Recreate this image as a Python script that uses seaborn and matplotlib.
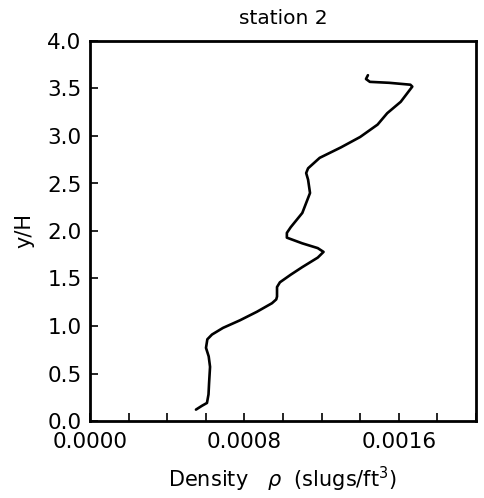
import numpy as np
import pandas as pd
import matplotlib
matplotlib.use("Agg")
import matplotlib.pyplot as plt
import seaborn as sns
from matplotlib.ticker import FixedLocator, FuncFormatter

# Data (density in slugs/ft^3 vs y/H)
density = [0.000549, 0.000580, 0.000606, 0.000614, 0.000617, 0.000622, 0.000615,
           0.000601, 0.000608, 0.000632, 0.000689,
           0.000777, 0.000865, 0.000943, 0.000965, 0.000969, 0.000969, 0.000984, 0.00104,
           0.00110, 0.00118, 0.00121, 0.00118, 0.00110, 0.00102, 0.00102, 0.00104, 0.00110,
           0.00114, 0.00113, 0.00112, 0.00113, 0.00119, 0.00130, 0.00140, 0.00149, 0.00154,
           0.00161, 0.00167, 0.00166, 0.00155, 0.00145, 0.00143, 0.00144]
y_over_h = [0.12, 0.16, 0.19, 0.28, 0.40, 0.57, 0.68, 0.77, 0.86, 0.91, 0.98, 1.06, 1.15,
            1.24, 1.28, 1.31, 1.41, 1.46, 1.54, 1.62, 1.72, 1.78, 1.82, 1.87, 1.93, 1.98,
            2.04, 2.19, 2.40, 2.54, 2.61, 2.66, 2.77, 2.88, 2.99, 3.12, 3.24, 3.36, 3.52,
            3.54, 3.56, 3.57, 3.60, 3.64]
x_ticks = [0.0000, 0.0008, 0.0016]
y_ticks = [0.0, 0.5, 1.0, 1.5, 2.0, 2.5, 3.0, 3.5, 4.0]
title = "station 2"

df = pd.DataFrame({"density": density, "y": y_over_h})

sns.set_style("ticks")
plt.rcParams["font.family"] = ["DejaVu Sans"]
plt.rcParams["mathtext.fontset"] = "dejavusans"
plt.rcParams["text.color"] = "black"
plt.rcParams["axes.labelcolor"] = "black"

fig = plt.figure(figsize=(4.84, 4.98), dpi=100)
ax = fig.add_axes([90/484, 77/498, (476-90)/484, (421-41)/498])

sns.lineplot(data=df, x="density", y="y", sort=False, estimator=None,
             color="black", linewidth=1.9, ax=ax)

ax.set_xlim(0, 0.002)
ax.set_ylim(0, 4.0)

minor_x = [i * 0.0002 for i in range(11)]
ax.xaxis.set_major_locator(FixedLocator(minor_x))
ax.xaxis.set_major_formatter(FuncFormatter(
    lambda v, p: ("%.4f" % v) if any(abs(v - t) < 1e-9 for t in x_ticks) else ""))
ax.set_yticks(y_ticks)
ax.set_yticklabels(["%.1f" % v for v in y_ticks])

ax.tick_params(direction="in", length=6, width=1.2, labelsize=15.5, colors="black")
ax.tick_params(axis="x", pad=8)
ax.tick_params(axis="y", pad=6)
for s in ax.spines.values():
    s.set_visible(True)
    s.set_linewidth(2)
    s.set_color("black")

ax.set_xlabel(r"Density   $\rho$  (slugs/ft$^3$)", fontsize=15, labelpad=9, color="black")
ax.set_ylabel("y/H", fontsize=15, labelpad=9, color="black")
ax.set_title(title, fontsize=14.5, pad=12, color="black")

fig.savefig("out.png", dpi=100)
